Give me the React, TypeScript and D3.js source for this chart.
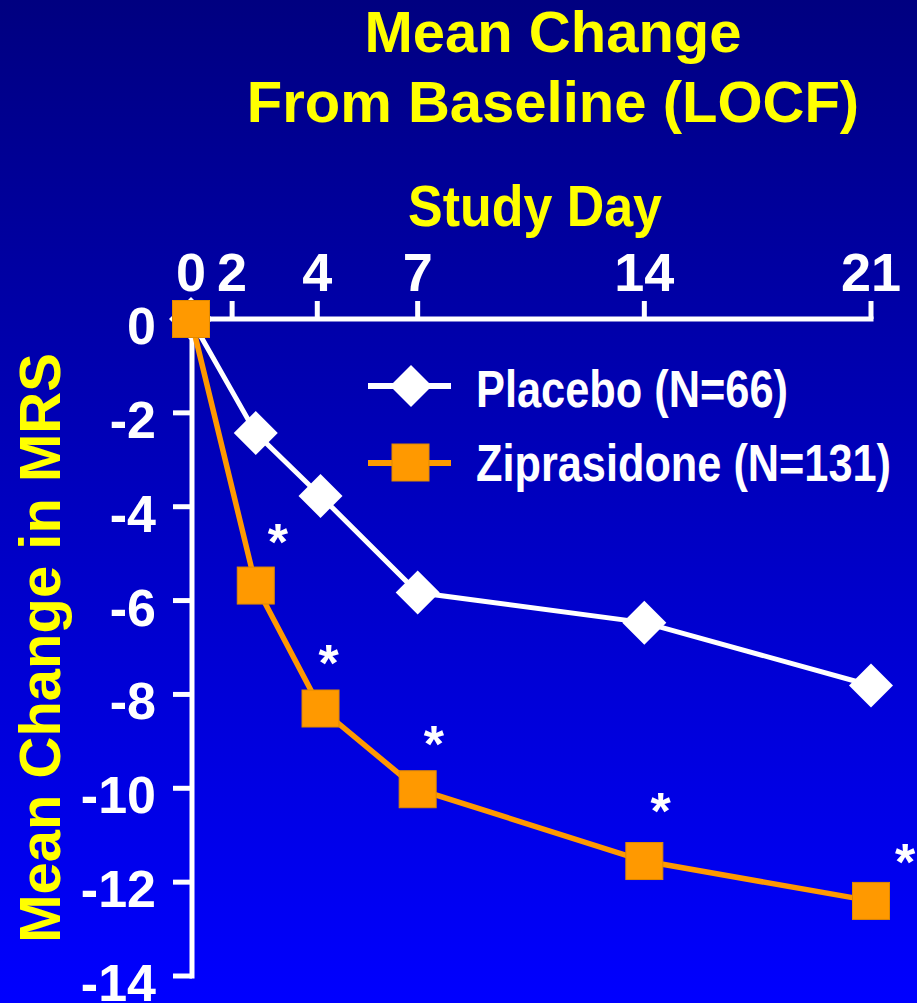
import React from "react";
import * as d3 from "d3";

const days = [0, 2, 4, 7, 14, 21];
const placebo = [0, -2.43, -3.77, -5.83, -6.47, -7.81];
const ziprasidone = [0, -5.68, -8.3, -10.02, -11.55, -12.4];
const xTickAt = [0, 1.27, 3.9, 7, 14, 21];
const xTickLabels = ["0", "2", "4", "7", "14", "21"];
const yTicks = [0, -2, -4, -6, -8, -10, -12, -14];
const sigDays = [2.68, 4.25, 7.5, 14.5, 22.05];
const sigValues = [-4.55, -7.13, -8.87, -10.3, -11.38];
const seriesNames = ["Placebo (N=66)", "Ziprasidone (N=131)"];
const titleLines = ["Mean Change", "From Baseline (LOCF)"];
const xTitle = "Study Day";
const yTitle = "Mean Change in MRS";

const W = 917;
const H = 1003;
const FONT = "'Liberation Sans', Arial, Helvetica, sans-serif";
const ORANGE = "#FF9900";
const YELLOW = "#FFFF00";

export default function App() {
  const x = d3.scaleLinear().domain([0, 21]).range([191, 871]);
  const y = d3.scaleLinear().domain([0, -14]).range([319, 976]);
  const line = d3
    .line<number>()
    .x((_, i) => x(days[i]))
    .y((v) => y(v));
  const axisX = x(0) + 1;
  const diamond = (cx: number, cy: number, r: number) =>
    `M${cx},${cy - r}L${cx + r},${cy}L${cx},${cy + r}L${cx - r},${cy}Z`;

  return (
    <svg
      width={W}
      height={H}
      style={{ position: "absolute", left: 0, top: 0 }}
      fontFamily={FONT}
      fontWeight="bold"
    >
      <defs>
        <linearGradient id="bg" x1="0" y1="0" x2="0" y2="1">
          <stop offset="0" stopColor="#000080" />
          <stop offset="1" stopColor="#0000FF" />
        </linearGradient>
      </defs>
      <rect x={0} y={0} width={W} height={H} fill="url(#bg)" />

      {/* Titles */}
      {titleLines.map((t, i) => (
        <text key={t} x={553} y={52 + i * 70} textAnchor="middle" fontSize={58} fill={YELLOW}>
          {t}
        </text>
      ))}
      <text x={408} y={226} fontSize={58} fill={YELLOW} textLength={254} lengthAdjust="spacingAndGlyphs">
        {xTitle}
      </text>
      <text
        transform={`translate(60,648) rotate(-90)`}
        textAnchor="middle"
        fontSize={58}
        fill={YELLOW}
      >
        {yTitle}
      </text>

      {/* Axes */}
      <line x1={axisX} x2={x(21) + 2.5} y1={y(0)} y2={y(0)} stroke="#fff" strokeWidth={5} />
      <line x1={axisX} x2={axisX} y1={y(0)} y2={y(-14) + 2.5} stroke="#fff" strokeWidth={5} />
      {xTickAt.map((d, i) => (
        <g key={"xt" + i}>
          <line x1={x(d)} x2={x(d)} y1={y(0)} y2={y(0) - 18} stroke="#fff" strokeWidth={5} />
          <text x={x(d)} y={291} textAnchor="middle" fontSize={54} fill="#fff">
            {xTickLabels[i]}
          </text>
        </g>
      ))}
      {yTicks.map((v) => (
        <g key={"yt" + v}>
          <line x1={axisX - 19} x2={axisX} y1={y(v)} y2={y(v)} stroke="#fff" strokeWidth={5} />
          <text x={156} y={y(v) + 25} textAnchor="end" fontSize={52} fill="#fff">
            {v === 0 ? "0" : "-" + Math.abs(v)}
          </text>
        </g>
      ))}

      {/* Placebo */}
      <path d={line(placebo) || ""} fill="none" stroke="#fff" strokeWidth={5} />
      {placebo.map((v, i) => (
        <path key={"p" + i} d={diamond(x(days[i]), y(v), 22)} fill="#fff" />
      ))}

      {/* Ziprasidone */}
      <path d={line(ziprasidone) || ""} fill="none" stroke={ORANGE} strokeWidth={5.5} />
      {ziprasidone.map((v, i) => (
        <rect
          key={"z" + i}
          x={x(days[i]) - 18.5}
          y={y(v) - 18.5}
          width={37}
          height={37}
          fill={ORANGE}
          stroke="#E08A00"
          strokeWidth={1}
        />
      ))}

      {/* Significance asterisks */}
      {sigDays.map((d, i) => (
        <text key={"s" + i} x={x(d)} y={y(sigValues[i]) + 27} textAnchor="middle" fontSize={52} fill="#fff">
          *
        </text>
      ))}

      {/* Legend */}
      <line x1={368} x2={451} y1={386} y2={386} stroke="#fff" strokeWidth={6} />
      <path d={diamond(411, 386, 21)} fill="#fff" />
      <text x={476} y={407} fontSize={52} fill="#fff" textLength={312} lengthAdjust="spacingAndGlyphs">
        {seriesNames[0]}
      </text>
      <line x1={368} x2={451} y1={463} y2={463} stroke={ORANGE} strokeWidth={6} />
      <rect x={392} y={444} width={37} height={37} fill={ORANGE} stroke="#E08A00" strokeWidth={1} />
      <text x={476} y={481} fontSize={52} fill="#fff" textLength={415} lengthAdjust="spacingAndGlyphs">
        {seriesNames[1]}
      </text>
    </svg>
  );
}
